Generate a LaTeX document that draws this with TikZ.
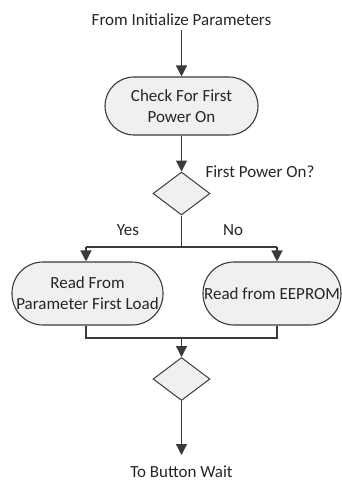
\documentclass[tikz,border=0pt]{standalone}
\usepackage{fontspec}
\setmainfont{Carlito}
\usetikzlibrary{arrows.meta,shapes.geometric}
\definecolor{lncol}{HTML}{3A3A3A}
\definecolor{boxfill}{HTML}{F0F0F0}
\begin{document}
\begin{tikzpicture}[x=1pt,y=-1pt,
  every node/.style={font=\fontsize{17}{21}\selectfont, text=black!85},
  conn/.style={draw=lncol, line width=1.3pt},
  arr/.style={conn, -{Triangle[length=11pt,width=11pt]}},
  pill/.style={draw=lncol, line width=1.1pt, fill=boxfill, rounded corners=#1, inner sep=1pt, align=center},
  decis/.style={draw=lncol, line width=1pt, fill=boxfill, diamond, inner sep=0pt, minimum width=57pt, minimum height=43pt},
  lbl/.style={inner sep=0pt}
]
\useasboundingbox (0,0) rectangle (342,481);
\node[lbl] (from) at (181.5,20) {From Initialize Parameters};
\node[pill=29pt, minimum width=153pt, minimum height=58pt] (check) at (181.5,106) {Check For First\\Power On};
\node[decis] (d1) at (181.5,193.5) {};
\node[lbl] (q) at (260,172) {First Power On?};
\coordinate (j1) at (181.5,247);
\coordinate (jl) at (86,247);
\coordinate (jr) at (277,247);
\node[lbl] (yes) at (128,230) {Yes};
\node[lbl] (no) at (233,230) {No};
\node[pill=31pt, minimum width=151pt, minimum height=63pt] (lb) at (87.5,293.5) {Read From\\Parameter First Load};
\node[pill=31pt, minimum width=138pt, minimum height=63pt] (rb) at (272,293.5) {Read from EEPROM};
\coordinate (bl) at (86,338);
\coordinate (br) at (277,338);
\coordinate (bj) at (181.5,338);
\node[decis] (d2) at (181.5,379) {};
\coordinate (end) at (181.5,455);
\node[lbl] (to) at (181.5,472) {To Button Wait};

\draw[arr] (181.5,30) -- (check.north);
\draw[arr] (check.south) -- (d1.north);
\draw[conn] (d1.south) -- (j1);
\draw[conn] (jl) -- (jr);
\draw[arr] (jl) -- (jl |- lb.north);
\draw[arr] (jr) -- (jr |- rb.north);
\draw[conn] (bl |- lb.south) -- (bl) -- (br) -- (br |- rb.south);
\draw[arr] (bj) -- (d2.north);
\draw[arr] (d2.south) -- (end);
\end{tikzpicture}
\end{document}
